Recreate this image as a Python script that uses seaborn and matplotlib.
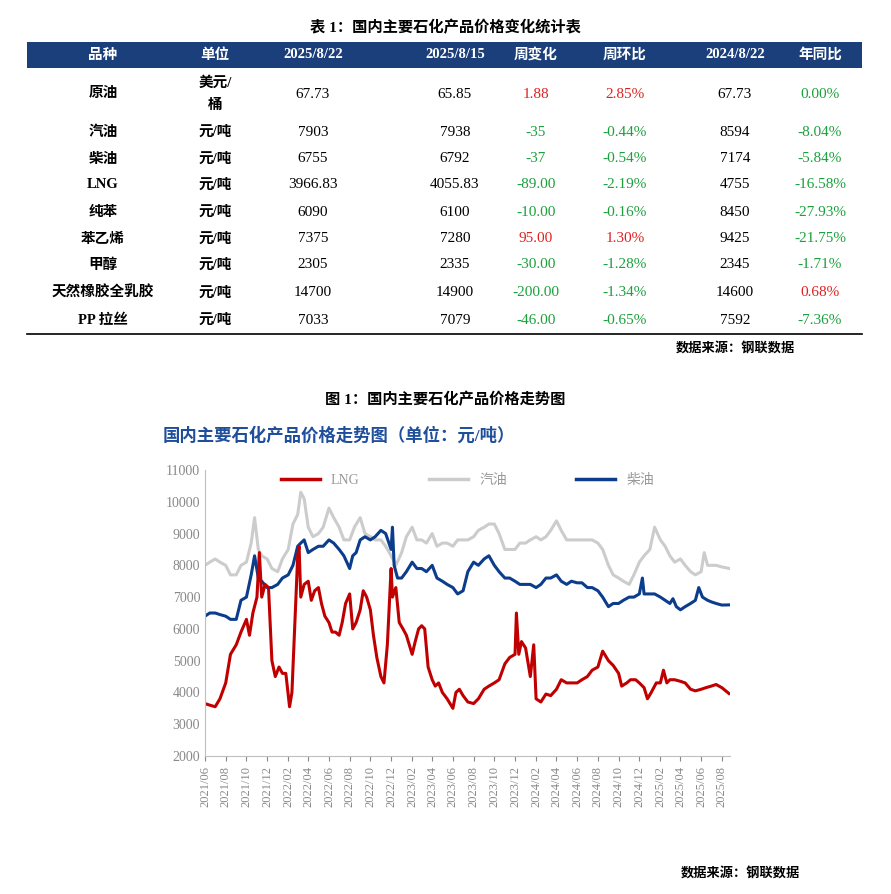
import matplotlib
matplotlib.use("Agg")
import matplotlib.pyplot as plt
import seaborn as sns
import pandas as pd
import numpy as np
from matplotlib.patches import Rectangle

plt.rcParams["font.family"] = ["Liberation Serif", "Noto Sans CJK SC"]

# ---------------- table data ----------------
tbl_header = ["品种", "单位", "2025/8/22", "2025/8/15", "周变化", "周环比", "2024/8/22", "年同比"]
tbl_names = ["原油", "汽油", "柴油", "LNG", "纯苯", "苯乙烯", "甲醇", "天然橡胶全乳胶", "PP 拉丝"]
tbl_units = ["美元/\n桶", "元/吨", "元/吨", "元/吨", "元/吨", "元/吨", "元/吨", "元/吨", "元/吨"]
tbl_cur = ["67.73", "7903", "6755", "3966.83", "6090", "7375", "2305", "14700", "7033"]
tbl_prev = ["65.85", "7938", "6792", "4055.83", "6100", "7280", "2335", "14900", "7079"]
tbl_wchg = ["1.88", "-35", "-37", "-89.00", "-10.00", "95.00", "-30.00", "-200.00", "-46.00"]
tbl_wpct = ["2.85%", "-0.44%", "-0.54%", "-2.19%", "-0.16%", "1.30%", "-1.28%", "-1.34%", "-0.65%"]
tbl_ly = ["67.73", "8594", "7174", "4755", "8450", "9425", "2345", "14600", "7592"]
tbl_ypct = ["0.00%", "-8.04%", "-5.84%", "-16.58%", "-27.93%", "-21.75%", "-1.71%", "0.68%", "-7.36%"]

# ---------------- chart data ----------------
lng_dates = ["2021-06-01","2021-06-15","2021-07-01","2021-07-15","2021-08-01","2021-08-15","2021-09-01","2021-09-15","2021-10-01","2021-10-10","2021-10-20","2021-11-01","2021-11-08","2021-11-15","2021-11-25","2021-12-05","2021-12-15","2021-12-25",
"2022-01-05","2022-01-15","2022-01-25","2022-02-05","2022-02-12","2022-02-20","2022-03-01","2022-03-05","2022-03-10","2022-03-20","2022-04-01","2022-04-10","2022-04-20","2022-05-01","2022-05-10","2022-05-20","2022-06-01","2022-06-10","2022-06-20","2022-07-01","2022-07-10","2022-07-20","2022-08-01","2022-08-10","2022-08-20","2022-09-01","2022-09-10","2022-09-20","2022-10-01","2022-10-10","2022-10-20","2022-11-01","2022-11-10","2022-11-20","2022-12-01","2022-12-05","2022-12-15","2022-12-25",
"2023-01-05","2023-01-15","2023-02-01","2023-02-10","2023-02-20","2023-03-01","2023-03-10","2023-03-20","2023-04-01","2023-04-10","2023-04-20","2023-05-01","2023-05-15","2023-06-01","2023-06-10","2023-06-20","2023-07-01","2023-07-15","2023-08-01","2023-08-15","2023-09-01","2023-09-15","2023-10-01","2023-10-15","2023-11-01","2023-11-15","2023-12-01","2023-12-05","2023-12-12","2023-12-20",
"2024-01-01","2024-01-15","2024-01-25","2024-02-01","2024-02-15","2024-03-01","2024-03-15","2024-04-01","2024-04-15","2024-05-01","2024-05-15","2024-06-01","2024-06-15","2024-07-01","2024-07-15","2024-08-01","2024-08-15","2024-09-01","2024-09-15","2024-10-01","2024-10-10","2024-10-25","2024-11-05","2024-11-20","2024-12-01","2024-12-15","2024-12-25",
"2025-01-05","2025-01-20","2025-02-01","2025-02-10","2025-02-20","2025-03-01","2025-03-15","2025-04-01","2025-04-15","2025-05-01","2025-05-15","2025-06-01","2025-06-15","2025-07-01","2025-07-15","2025-08-01","2025-08-22"]
lng_vals = [3650,3600,3550,3800,4300,5200,5500,5900,6300,5800,6500,7000,8400,7000,7400,7300,5000,4500,
4800,4600,4600,3550,4000,6000,8300,8600,7000,7400,7500,6900,7200,7300,6800,6400,6200,5900,5900,5800,6200,6800,7100,6000,6200,6600,7200,7000,6600,5800,5100,4500,4300,5500,7900,7000,7300,6200,
6000,5800,5200,5600,6000,6100,6000,4800,4400,4200,4300,4000,3800,3500,4000,4100,3900,3700,3650,3800,4100,4200,4300,4400,4900,5100,5200,6500,5200,5600,
5400,4500,5500,3800,3700,3950,3900,4100,4400,4300,4300,4300,4400,4500,4700,4800,5300,5000,4850,4600,4200,4300,4400,4400,4300,4150,3800,
4000,4300,4300,4700,4300,4400,4400,4350,4300,4100,4050,4100,4150,4200,4250,4150,3967]

gas_dates = ["2021-06-01","2021-06-15","2021-07-01","2021-07-15","2021-08-01","2021-08-15","2021-09-01","2021-09-15","2021-10-01","2021-10-15","2021-10-25","2021-11-05","2021-11-15","2021-12-01","2021-12-15",
"2022-01-01","2022-01-15","2022-02-01","2022-02-15","2022-03-01","2022-03-10","2022-03-20","2022-04-01","2022-04-15","2022-05-01","2022-05-15","2022-06-01","2022-06-15","2022-07-01","2022-07-15","2022-08-01","2022-08-15","2022-09-01","2022-09-15","2022-10-01","2022-10-15","2022-11-01","2022-11-15","2022-12-01","2022-12-15",
"2023-01-01","2023-01-15","2023-02-01","2023-02-15","2023-03-01","2023-03-15","2023-04-01","2023-04-15","2023-05-01","2023-05-15","2023-06-01","2023-06-15","2023-07-01","2023-07-15","2023-08-01","2023-08-15","2023-09-01","2023-09-15","2023-10-01","2023-10-15","2023-11-01","2023-11-15","2023-12-01","2023-12-15",
"2024-01-01","2024-01-15","2024-02-01","2024-02-15","2024-03-01","2024-03-15","2024-04-01","2024-04-15","2024-05-01","2024-05-15","2024-06-01","2024-06-15","2024-07-01","2024-07-15","2024-08-01","2024-08-15","2024-09-01","2024-09-15","2024-10-01","2024-10-15","2024-11-01","2024-11-15","2024-12-01","2024-12-15",
"2025-01-01","2025-01-15","2025-02-01","2025-02-15","2025-03-01","2025-03-15","2025-04-01","2025-04-15","2025-05-01","2025-05-15","2025-06-01","2025-06-10","2025-06-20","2025-07-01","2025-07-15","2025-08-01","2025-08-22"]
gas_vals = [8000,8100,8200,8100,8000,7700,7700,8000,8100,8700,9500,8500,8300,8200,7900,
7800,8200,8500,9300,9600,10300,10100,9200,8900,9000,9200,9800,9500,9200,8800,8800,9200,9500,9000,8900,8800,8800,8600,8300,8000,
8400,8900,9200,8800,8800,8700,9000,8600,8700,8700,8600,8800,8800,8800,8900,9100,9200,9300,9300,9000,8500,8500,8500,8700,
8700,8800,8900,8800,8900,9100,9400,9100,8800,8800,8800,8800,8800,8800,8700,8500,8000,7700,7600,7500,7400,7700,8100,8300,
8500,9200,8800,8600,8300,8100,8200,8000,7800,7700,7800,8400,8000,8000,8000,7950,7903]

die_dates = ["2021-06-01","2021-06-15","2021-07-01","2021-07-15","2021-08-01","2021-08-15","2021-09-01","2021-09-15","2021-10-01","2021-10-15","2021-10-25","2021-11-05","2021-11-15","2021-12-01","2021-12-15",
"2022-01-01","2022-01-15","2022-02-01","2022-02-15","2022-03-01","2022-03-10","2022-03-20","2022-04-01","2022-04-15","2022-05-01","2022-05-15","2022-06-01","2022-06-15","2022-07-01","2022-07-15","2022-08-01","2022-08-10","2022-08-20","2022-09-01","2022-09-15","2022-10-01","2022-10-15","2022-11-01","2022-11-15","2022-12-01","2022-12-05","2022-12-10","2022-12-20",
"2023-01-01","2023-01-15","2023-02-01","2023-02-15","2023-03-01","2023-03-15","2023-04-01","2023-04-15","2023-05-01","2023-05-15","2023-06-01","2023-06-15","2023-07-01","2023-07-15","2023-08-01","2023-08-15","2023-09-01","2023-09-15","2023-10-01","2023-10-15","2023-11-01","2023-11-15","2023-12-01","2023-12-15",
"2024-01-01","2024-01-15","2024-02-01","2024-02-15","2024-03-01","2024-03-15","2024-04-01","2024-04-15","2024-05-01","2024-05-15","2024-06-01","2024-06-15","2024-07-01","2024-07-15","2024-08-01","2024-08-15","2024-09-01","2024-09-15","2024-10-01","2024-10-15","2024-11-01","2024-11-15","2024-12-01","2024-12-10","2024-12-15",
"2025-01-01","2025-01-15","2025-02-01","2025-02-15","2025-03-01","2025-03-10","2025-03-20","2025-04-01","2025-04-15","2025-05-01","2025-05-15","2025-05-25","2025-06-05","2025-06-20","2025-07-01","2025-07-15","2025-08-01","2025-08-22"]
die_vals = [6400,6500,6500,6450,6400,6300,6300,6900,7000,7700,8300,7600,7500,7300,7300,
7400,7600,7700,8000,8600,8700,8800,8400,8500,8600,8600,8800,8700,8500,8300,7900,8300,8400,8800,8900,8800,8900,9100,9000,8500,9200,8000,7600,
7600,7800,8100,7900,7900,7800,8000,7600,7500,7400,7300,7100,7200,7800,8100,8000,8200,8300,8000,7800,7600,7600,7500,7400,
7400,7400,7300,7400,7600,7600,7700,7500,7400,7500,7450,7450,7300,7300,7200,7000,6700,6800,6800,6900,7000,7000,7100,7600,7100,
7100,7100,7000,6900,6800,6950,6700,6600,6700,6800,6900,7300,7000,6900,6850,6800,6750,6755]

tick_labels = ["2021/06","2021/08","2021/10","2021/12","2022/02","2022/04","2022/06","2022/08","2022/10","2022/12",
"2023/02","2023/04","2023/06","2023/08","2023/10","2023/12","2024/02","2024/04","2024/06","2024/08","2024/10","2024/12",
"2025/02","2025/04","2025/06","2025/08"]

W, H = 891, 894
fig = plt.figure(figsize=(W/100, H/100), dpi=100)
bg = fig.add_axes([0, 0, 1, 1])
bg.set_xlim(0, W); bg.set_ylim(H, 0); bg.axis("off")

NAVY = "#1a3f7a"; RED = "#e02020"; GREEN = "#1aa03c"
# table title
bg.text(445, 28, "表 1：国内主要石化产品价格变化统计表", ha="center", va="center", fontsize=11, fontweight="bold")
bg.add_patch(Rectangle((27, 42), 835, 26, color=NAVY, lw=0))
col_x = [103, 215, 313, 455, 536, 625, 735, 820]
for x, h in zip(col_x, tbl_header):
    bg.text(x, 55, h, ha="center", va="center", color="white", fontsize=10.5, fontweight="bold")
row_y = [94, 132, 159, 185, 212, 239, 265, 293, 320]
def col(v):
    return RED if not v.startswith("-") and v not in ("0.00%",) else GREEN
for i, y in enumerate(row_y):
    bg.text(col_x[0], y, tbl_names[i], ha="center", va="center", fontsize=10.5, fontweight="bold")
    bg.text(col_x[1], y, tbl_units[i], ha="center", va="center", fontsize=10.5, fontweight="bold", linespacing=1.9)
    bg.text(col_x[2], y, tbl_cur[i], ha="center", va="center", fontsize=11)
    bg.text(col_x[3], y, tbl_prev[i], ha="center", va="center", fontsize=11)
    bg.text(col_x[4], y, tbl_wchg[i], ha="center", va="center", fontsize=11, color=col(tbl_wchg[i]))
    bg.text(col_x[5], y, tbl_wpct[i], ha="center", va="center", fontsize=11, color=col(tbl_wpct[i]))
    bg.text(col_x[6], y, tbl_ly[i], ha="center", va="center", fontsize=11)
    bg.text(col_x[7], y, tbl_ypct[i], ha="center", va="center", fontsize=11, color=col(tbl_ypct[i]))
bg.plot([27, 862], [334, 334], color="black", lw=1.2)
bg.text(795, 348, "数据来源：钢联数据", ha="right", va="center", fontsize=9.5, fontweight="bold")
bg.text(445, 400, "图 1：国内主要石化产品价格走势图", ha="center", va="center", fontsize=11, fontweight="bold")
bg.text(163, 436, "国内主要石化产品价格走势图（单位：元/吨）", ha="left", va="center", fontsize=12.5, fontweight="bold", color="#1f4e9a")
bg.text(800, 873, "数据来源：钢联数据", ha="right", va="center", fontsize=9.5, fontweight="bold")

# chart
ax = fig.add_axes([205/W, 1-756/H, 525/W, 286/H])
frames = []
for name, d, v in [("LNG", lng_dates, lng_vals), ("汽油", gas_dates, gas_vals), ("柴油", die_dates, die_vals)]:
    frames.append(pd.DataFrame({"date": pd.to_datetime(d), "value": v, "series": name}))
df = pd.concat(frames)
sns.lineplot(data=df, x="date", y="value", hue="series", hue_order=["汽油", "柴油", "LNG"],
             palette={"LNG": "#c00000", "汽油": "#cccccc", "柴油": "#0c3d8c"}, lw=2.2, ax=ax, legend=False)
ax.set_ylim(2000, 11000)
ax.set_yticks(range(2000, 11001, 1000))
ax.set_xlim(pd.Timestamp("2021-06-01"), pd.Timestamp("2025-08-25"))
ticks = [pd.Timestamp(t.replace("/", "-") + "-01") for t in tick_labels]
ax.set_xticks(ticks)
ax.set_xticklabels(tick_labels, rotation=90)
ax.set_xlabel(""); ax.set_ylabel("")
for s in ["top", "right"]:
    ax.spines[s].set_visible(False)
for s in ["left", "bottom"]:
    ax.spines[s].set_color("#bfbfbf")
ax.tick_params(colors="#888888", labelsize=10)
ax.tick_params(axis="x", labelsize=9)
ax.tick_params(axis="y", length=0)
# legend
from matplotlib.lines import Line2D
handles = [Line2D([], [], color="#c00000", lw=2.5), Line2D([], [], color="#cccccc", lw=2.5), Line2D([], [], color="#0c3d8c", lw=2.5)]
leg = ax.legend(handles, ["LNG", "汽油", "柴油"], ncol=3, frameon=False, loc="upper center",
                bbox_to_anchor=(0.5, 1.03), fontsize=10, handlelength=2.8, columnspacing=5)
for t in leg.get_texts():
    t.set_color("#999999")
fig.savefig("out.png", dpi=100, facecolor="white")
